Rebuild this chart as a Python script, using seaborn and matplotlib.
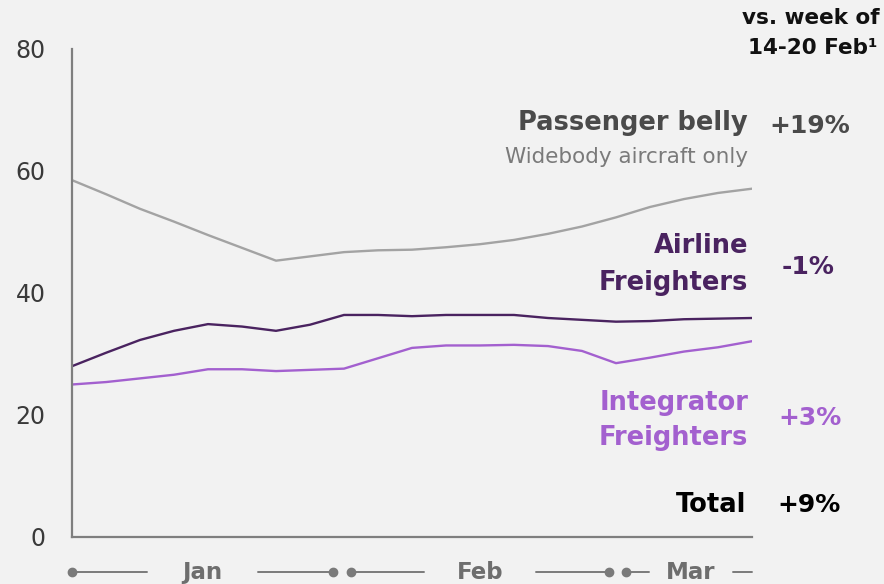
import numpy as np
import pandas as pd
import matplotlib.pyplot as plt
import matplotlib.transforms as mtransforms
import seaborn as sns

# half-week readings, index 0..10 (weeks)
weeks = [i / 2 for i in range(21)]
passenger_belly = [58.5, 56.2, 53.8, 51.7, 49.5, 47.4, 45.3, 46.0, 46.7, 47.0, 47.1,
                   47.5, 48.0, 48.7, 49.7, 50.9, 52.4, 54.1, 55.4, 56.4, 57.1]
airline_freighters = [28.0, 30.2, 32.3, 33.8, 34.9, 34.5, 33.8, 34.8, 36.4, 36.4, 36.2,
                      36.4, 36.4, 36.4, 35.9, 35.6, 35.3, 35.4, 35.7, 35.8, 35.9]
integrator_freighters = [25.0, 25.4, 26.0, 26.6, 27.5, 27.5, 27.2, 27.4, 27.6, 29.3, 31.0,
                         31.4, 31.4, 31.5, 31.3, 30.5, 28.5, 29.4, 30.4, 31.1, 32.1]

series_names = ["Passenger belly", "Airline Freighters", "Integrator Freighters"]
series_colors = ["#a3a3a3", "#4a2360", "#a360cf"]
changes = ["+19%", "-1%", "+3%"]
total_change = "+9%"

month_labels = ["Jan", "Feb", "Mar"]
month_start = [0.0, 4.1, 8.15]
month_end = [3.84, 7.9, 10.0]
month_end_dot = [True, True, False]

yticks = [0, 20, 40, 60, 80]

df = pd.DataFrame({
    "week": weeks * 3,
    "value": passenger_belly + airline_freighters + integrator_freighters,
    "series": [s for s in series_names for _ in weeks],
})

sns.set_style("white")
plt.rcParams['font.family'] = ['DejaVu Sans']
bg = "#f2f2f2"

fig = plt.figure(figsize=(8.84, 5.84), dpi=100, facecolor=bg)
W, H = 884, 584
ax = fig.add_axes([72 / W, 1 - 537 / H, (752 - 72) / W, (537 - 49) / H])
ax.set_facecolor(bg)

sns.lineplot(data=df, x="week", y="value", hue="series", palette=series_colors,
             hue_order=series_names, linewidth=1.7, legend=False, ax=ax)

ax.set_xlim(0, 10)
ax.set_ylim(0, 80)
ax.set_xticks(range(11))
ax.set_xticklabels([])
ax.set_yticks(yticks)
ax.set_xlabel("")
ax.set_ylabel("")
for s in ["top", "right"]:
    ax.spines[s].set_visible(False)
for s in ["left", "bottom"]:
    ax.spines[s].set_color("#7f7f7f")
    ax.spines[s].set_linewidth(1.6)
ax.tick_params(axis="y", length=7, width=1.3, color="#555555", labelsize=17,
               labelcolor="#3a3a3a", pad=12)
ax.tick_params(axis="x", length=7, width=1.3, color="#555555", direction="out")

# month spans under the axis
trans = mtransforms.blended_transform_factory(ax.transData, ax.transAxes)
ym = -0.072
mc = "#7a7a7a"
for lab, s, e, d in zip(month_labels, month_start, month_end, month_end_dot):
    c = (s + e) / 2 if d else 9.1
    gap = 0.82 if d else 0.62
    ax.plot([s, c - gap], [ym, ym], color=mc, lw=1.4, transform=trans, clip_on=False)
    ax.plot([c + gap, e], [ym, ym], color=mc, lw=1.4, transform=trans, clip_on=False)
    ax.plot([s], [ym], "o", color=mc, ms=6, transform=trans, clip_on=False)
    if d:
        ax.plot([e], [ym], "o", color=mc, ms=6, transform=trans, clip_on=False)
    ax.text(c, ym, lab, transform=trans, ha="center", va="center",
            fontsize=16.5, fontweight="bold", color="#6e6e6e")


def ftext(x, y, s, **kw):
    fig.text(x / W, 1 - y / H, s, va="center", **kw)


ftext(880, 18, "vs. week of", ha="right", fontsize=15.5, fontweight="bold", color="#111111")
ftext(878, 48, "14-20 Feb\u00b9", ha="right", fontsize=15.5, fontweight="bold", color="#111111")

ftext(748, 123, "Passenger belly", ha="right", fontsize=18.5, fontweight="bold", color="#4a4a4a")
ftext(748, 157, "Widebody aircraft only", ha="right", fontsize=15.5, color="#7a7a7a")
ftext(810, 126, changes[0], ha="center", fontsize=18, fontweight="bold", color="#4a4a4a")

ftext(748, 246, "Airline", ha="right", fontsize=18.5, fontweight="bold", color=series_colors[1])
ftext(748, 283, "Freighters", ha="right", fontsize=18.5, fontweight="bold", color=series_colors[1])
ftext(808, 267, changes[1], ha="center", fontsize=18, fontweight="bold", color=series_colors[1])

ftext(748, 403, "Integrator", ha="right", fontsize=18.5, fontweight="bold", color=series_colors[2])
ftext(748, 438, "Freighters", ha="right", fontsize=18.5, fontweight="bold", color=series_colors[2])
ftext(810, 418, changes[2], ha="center", fontsize=18, fontweight="bold", color=series_colors[2])

ftext(746, 505, "Total", ha="right", fontsize=18.5, fontweight="bold", color="#000000")
ftext(809, 505, total_change, ha="center", fontsize=18, fontweight="bold", color="#000000")

fig.savefig("out.png", dpi=100, facecolor=bg)
